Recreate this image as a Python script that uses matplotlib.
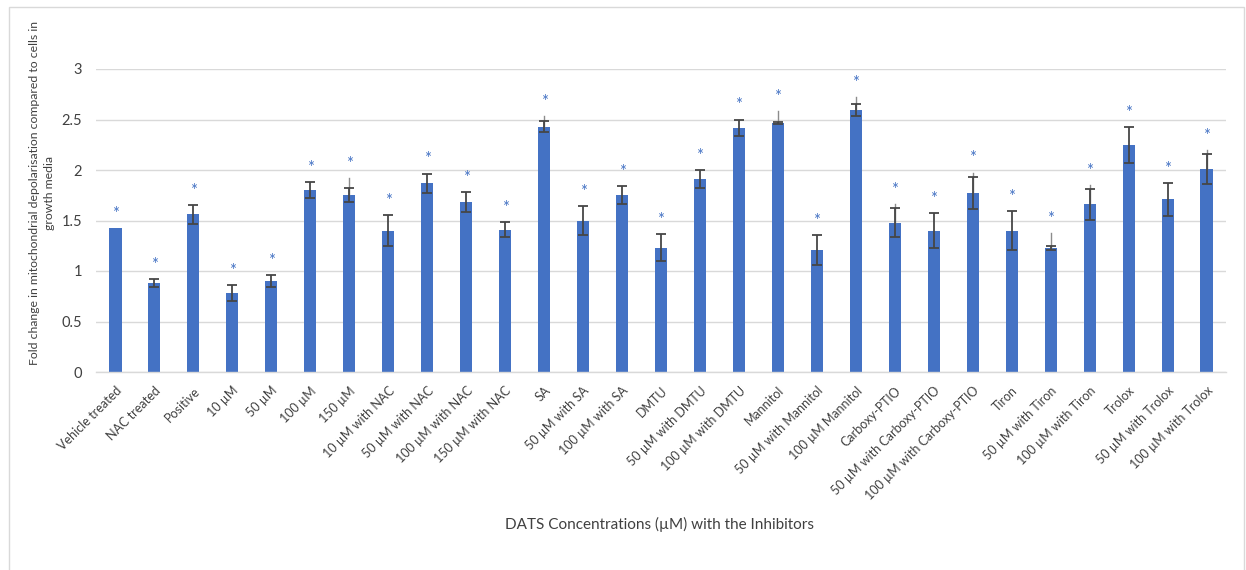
import matplotlib
matplotlib.use("Agg")
import matplotlib.pyplot as plt
import numpy as np
from matplotlib.patches import Rectangle

plt.rcParams['font.family'] = ['Lato', 'DejaVu Sans']

categories = [
    "Vehicle treated", "NAC treated", "Positive", "10 µM", "50 µM", "100 µM", "150 µM",
    "10 µM with NAC", "50 µM with NAC", "100 µM with NAC", "150 µM with NAC",
    "SA", "50 µM with SA", "100 µM with SA",
    "DMTU", "50 µM with DMTU", "100 µM with DMTU",
    "Mannitol", "50 µM with Mannitol", "100 µM Mannitol",
    "Carboxy-PTIO", "50 µM with Carboxy-PTIO", "100 µM with Carboxy-PTIO",
    "Tiron", "50 µM with Tiron", "100 µM with Tiron",
    "Trolox", "50 µM with Trolox", "100 µM with Trolox",
]

fold_change = [
    1.43, 0.88, 1.56, 0.78, 0.90, 1.80, 1.75,
    1.40, 1.87, 1.68, 1.41,
    2.43, 1.50, 1.75,
    1.23, 1.91, 2.42,
    2.47, 1.21, 2.59,
    1.48, 1.40, 1.77,
    1.40, 1.23, 1.66,
    2.25, 1.71, 2.01,
]

# symmetric standard deviation (dark capped bars)
sd = [
    0.0, 0.04, 0.09, 0.08, 0.06, 0.08, 0.07,
    0.15, 0.095, 0.10, 0.075,
    0.055, 0.14, 0.09,
    0.135, 0.09, 0.08,
    0.01, 0.15, 0.06,
    0.14, 0.175, 0.16,
    0.19, 0.02, 0.155,
    0.18, 0.165, 0.145,
]

# upper end of the thin grey (uncapped) error line, NaN where absent
upper_line = [
    np.nan, np.nan, np.nan, np.nan, np.nan, np.nan, 1.92,
    np.nan, np.nan, np.nan, np.nan,
    2.535, np.nan, np.nan,
    np.nan, np.nan, np.nan,
    2.585, np.nan, 2.725,
    1.665, np.nan, 1.975,
    np.nan, 1.38, 1.85,
    np.nan, np.nan, 2.20,
]

yticks = [0, 0.5, 1, 1.5, 2, 2.5, 3]
ytick_labels = ["0", "0.5", "1", "1.5", "2", "2.5", "3"]

bar_color = "#4472C4"
text_color = "#404040"

W, H = 1246, 570
fig = plt.figure(figsize=(W / 100, H / 100), dpi=100)
fig.patch.set_facecolor("white")

# chart frame
fig.patches.append(Rectangle((9 / W, -0.05), (1244 - 9) / W, (H - 7) / H + 0.05,
                             transform=fig.transFigure, fill=False,
                             edgecolor="#D9D9D9", linewidth=1.0))

ax = fig.add_axes([96 / W, (H - 372) / H, (1226 - 96) / W, (372 - 69) / H])

x = np.arange(len(categories))
vals = np.array(fold_change)
err = np.array(sd)
ext = np.array(upper_line)

ax.bar(x, vals, width=0.31, color=bar_color, zorder=2)

# thin grey upper lines
for xi, v, e in zip(x, vals, ext):
    if not np.isnan(e):
        ax.plot([xi, xi], [v, e], color="#8C8C8C", lw=1.0, zorder=3)

mask = err > 0
ax.errorbar(x[mask], vals[mask], yerr=err[mask], fmt="none", ecolor="#464646",
            elinewidth=1.3, capsize=3.6, capthick=1.3, zorder=4)

# significance markers
tops = np.fmax(vals + err, np.nan_to_num(ext, nan=0.0))
for xi, t in zip(x, tops):
    ax.text(xi, t + 0.06, "*", ha="center", va="bottom", color=bar_color,
            fontsize=12, zorder=5)

ax.set_xlim(-0.5, len(categories) - 0.5)
ax.set_ylim(0, 3)
ax.set_yticks(yticks)
ax.set_yticklabels(ytick_labels, fontsize=10.5, color=text_color)
ax.set_xticks(x)
ax.set_xticklabels(categories, rotation=45, ha="right", va="top",
                   rotation_mode="anchor", fontsize=9, color=text_color)
ax.tick_params(axis="both", length=0)
ax.tick_params(axis="y", pad=10)
ax.tick_params(axis="x", pad=9)

ax.grid(axis="y", color="#D9D9D9", lw=1.0, zorder=0)
ax.set_axisbelow(True)
for side in ["top", "right", "left"]:
    ax.spines[side].set_visible(False)
ax.spines["bottom"].set_color("#D9D9D9")
ax.spines["bottom"].set_linewidth(1.0)

fig.text(660 / W, 1 - 524 / H, "DATS Concentrations (µM) with the Inhibitors",
         ha="center", va="center", fontsize=11, color=text_color)
fig.text(42 / W, 1 - 193 / H,
         "Fold change in mitochondrial depolarisation compared to cells in\ngrowth media",
         ha="center", va="center", rotation=90, fontsize=8.8, color=text_color,
         multialignment="center", linespacing=1.55)

fig.savefig("out.png", dpi=100, facecolor="white")
